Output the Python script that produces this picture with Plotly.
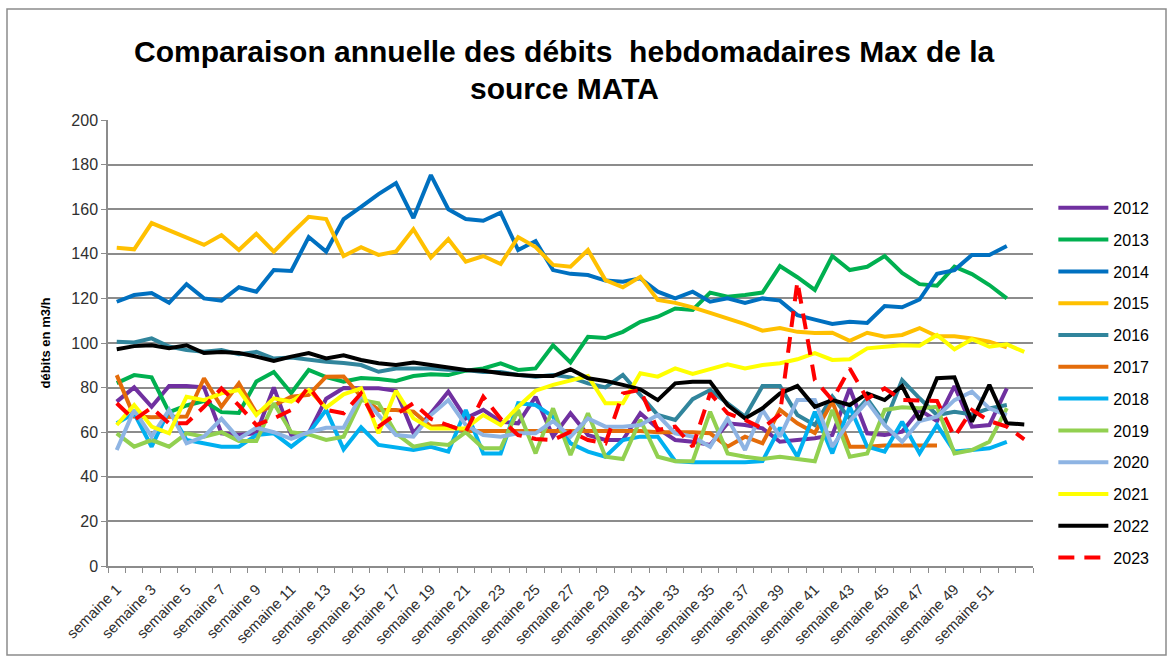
import plotly.graph_objects as go

N_WEEKS = 53
week_num = list(range(1, N_WEEKS + 1))
week_labels = ["semaine %d" % i for i in week_num]
tick_weeks = list(range(1, 52, 2))
tick_labels = ["semaine %d" % i for i in tick_weeks]

y_ticks = [0, 20, 40, 60, 80, 100, 120, 140, 160, 180, 200]

title_lines = ["Comparaison annuelle des débits  hebdomadaires Max de la", "source MATA"]

v2012 = [73.7,80.1,71.4,80.7,80.7,80.1,59.5,58.7,59.5,80.1,
         58.7,59.6,75,79.8,79.7,79.7,78.6,59.6,68.5,78.2,
         66.2,70,64.7,64,75.9,58,68.5,58.7,56.5,56.5,
         68.5,61.7,56.5,55.7,54.3,64,63.2,61.7,55.7,56.5,
         57.3,58.7,79.7,59.5,58.7,60.2,70,65,80.7,62.5,
         63.2,79.7]
v2013 = [82,85.6,84.6,69,72,74,69,68.6,82.7,87,
         77.6,87.9,84.7,82.7,84.3,83.9,83,85.2,86,85.6,
         87.6,88.6,90.9,87.9,88.6,99,91.3,102.8,102.2,105,
         109.5,111.8,115.5,114.8,122.6,120.8,121.5,122.6,134.5,129.5,
         123.8,139,132.7,134.2,139,131.4,126.4,125.7,134.2,130.9,
         126,120]
v2014 = [118.5,121.5,122.4,118,126.4,120,119,125,123,132.7,
         132.3,147.5,141,155.5,161,166.8,171.7,156,175.3,160,
         155.6,154.8,158.4,141.7,145.7,132.7,131,130.5,128,127.5,
         129,123,120,123,118.5,120,118,120,119,112.5,
         110.5,108.5,109.5,109,116.6,116,119.5,131,132.7,139.5,
         139.5,143.5]
v2015 = [142.7,142,153.8,150.5,147,144,148.4,141.7,149,141,
         149,156.6,155.6,139,143,139.5,141,151,138.3,146.6,
         136.5,139,135.4,147.5,143,135,134.2,141.7,128.2,125,
         129.7,119.3,118,116,113.5,111,108.5,105.5,106.7,105,
         104.5,104.6,101,104.6,102.8,103.6,106.7,103,103,102,
         100.6,98]
v2016 = [100.6,100.2,102.1,98.4,96.9,96.1,96.9,95,96,93,
         93.5,92.5,91.6,91,90.1,87.1,88.6,88.6,88.6,88,
         87.9,87,87,85.7,84.9,85.7,84.6,81.9,80.1,85.7,
         76.7,67.7,65.5,74.8,78.9,73,67,80.7,80.7,67.7,
         63.2,76,66,75,64,83.4,75.2,67.7,69.2,68,
         70.7,72.2]
v2017 = [85.6,67,66.7,67,67,84.2,71.4,81.9,68.6,72,
         75.9,76.7,84.9,85,76,70,70,69.2,62.5,63,
         60.5,60.5,60.5,60.5,60.5,60.5,60.5,60.5,60.5,60.5,
         60.5,60,60,60,59.5,53.5,58,55,70,64,
         59.6,73.7,53.5,53.5,54,54,54,54]
v2018 = [64,68.5,53.5,70,56.5,55,53.5,53.5,58.7,59.5,
         53.5,59.6,70,52.3,62.2,54.3,53,52,53.5,51.3,
         70,50.5,50.5,73,72.2,67,55,51.3,49,56.5,
         58,58,47,46.5,46.5,46.5,46.5,47,62,49,
         69.2,50.5,71.4,53.5,51.3,64.7,50.5,63.2,51.3,52,
         52.8,55.7]
v2019 = [59.5,53.5,56.5,53.5,59.5,58,60,56,56,73,
         60,59,56.5,58,74.4,73,59.5,53.5,55,54.3,
         60,52.8,52.8,70,50.5,70.7,49.8,68.5,49,48,
         65.5,49,47,47,69.2,50.5,49,48,49,48,
         47,70,49,50.5,70,71.2,70.7,71.4,50.5,52,
         55.7,70.8]
v2020 = [52,70,58,70,55,58,66,57,62,60,
         57,60,62,62,76.7,67.7,58.7,58,67.7,74.4,
         63.2,58.7,58,59.5,59.5,65,58,66.2,62.5,62.5,
         63.2,67.7,59.5,58,53.5,66.2,52,70,58,74.4,
         74.4,53.5,65,73.7,63.2,55.7,65,67,74.4,78.2,
         70.7,67.7]
v2021 = [63.2,72.2,62.5,59.5,75.9,74.4,77.4,78.9,67.7,75.2,
         73.7,78.9,71,77,79.7,59.5,78.6,66.2,61.7,61.7,
         61.7,67.7,63.2,71.4,78.6,81.2,83.4,85.2,73,73,
         86.4,84.9,88.6,86.1,88.3,90.4,88.6,90.1,90.9,92.7,
         95.5,92.4,92.7,97.6,98.3,99,98.8,103.6,97.2,101.7,
         98.3,99.4,96]
v2022 = [97.2,98.6,99,97.7,99,95.5,96,95.5,93.9,92,
         93.9,95.5,93.1,94.5,92.4,90.9,90.1,91.2,90.1,88.9,
         87.9,87.6,86.4,85.7,85.2,85.2,88.2,84.2,83,81.2,
         79.2,74.4,81.9,82.6,82.6,72.2,66.2,70.7,77.4,80.7,
         71.4,74.4,72.2,77.4,74.4,80.7,65.5,84.2,84.6,64.7,
         81.2,64,63.5]
v2023 = [73,65.5,71,64,64,71.4,79.7,72,63.2,66.2,
         70,80.4,70,68.5,77.4,62.5,68,73,66,63,
         60.2,75.9,66,58.7,57,56.5,60.2,56.5,55,77.4,
         79,61,62.5,53.5,77.4,68.5,65.5,61.7,68,127.5,
         83.4,74.4,88.6,75,79.7,74.4,74,74,58,70,
         65,62.5,56.8]

years = ["2012", "2013", "2014", "2015", "2016", "2017", "2018", "2019",
         "2020", "2021", "2022", "2023"]
series = [v2012, v2013, v2014, v2015, v2016, v2017, v2018, v2019,
          v2020, v2021, v2022, v2023]
colors = ["#7030A0", "#00B050", "#0070C0", "#FFC000", "#31859C", "#E46C0A",
          "#00B0F0", "#92D050", "#8EB4E3", "#FFFF00", "#000000", "#FF0000"]

FONT = "Liberation Sans"

fig = go.Figure()
for name, vals, col in zip(years, series, colors):
    y = list(vals) + [None] * (N_WEEKS - len(vals))
    fig.add_trace(go.Scatter(
        x=week_num, y=y, name=name, mode="lines",
        legendgroup=name,
        line=dict(color=col, width=4,
                  dash="16px,10px" if name == "2023" else "solid"),
        connectgaps=False,
    ))

fig.update_layout(
    width=1174, height=660,
    margin=dict(l=108, r=141, t=120, b=94, autoexpand=False),
    paper_bgcolor="white", plot_bgcolor="white",
    showlegend=True,
    legend=dict(
        x=1.022, xanchor="left", y=0.841, yanchor="top",
        font=dict(family=FONT, size=16, color="#000000"),
        traceorder="grouped", tracegroupgap=8,
        itemwidth=50, bgcolor="rgba(0,0,0,0)",
    ),
    font=dict(family=FONT, color="#303030"),
)

for line_text, ypos in zip(title_lines, [1.1525, 1.0717]):
    fig.add_annotation(
        text="<b>%s</b>" % line_text, xref="paper", yref="paper",
        x=0.4935, y=ypos, xanchor="center", yanchor="middle",
        showarrow=False, font=dict(family=FONT, size=30, color="#000000"),
    )

fig.update_xaxes(
    range=[0.5, N_WEEKS + 0.5], automargin=False,
    tickmode="array", tickvals=tick_weeks, ticktext=tick_labels,
    tickangle=-45, ticks="", showgrid=False, zeroline=False,
    showline=True, linecolor="#8c8c8c", linewidth=1.5,
    ticklabelstandoff=7,
    tickfont=dict(family=FONT, size=15, color="#303030"),
    minor=dict(tickmode="array", tickvals=[i + 0.5 for i in range(0, N_WEEKS + 1)],
               ticks="outside", ticklen=5, tickcolor="#8c8c8c", tickwidth=1.2,
               showgrid=False),
)
fig.update_yaxes(
    range=[0, 200], tickmode="array", tickvals=y_ticks, automargin=False,
    showgrid=True, gridcolor="#8c8c8c", gridwidth=1.8,
    zeroline=False, showline=True, linecolor="#8c8c8c", linewidth=1.5,
    ticks="outside", ticklen=5, tickcolor="#8c8c8c",
    tickfont=dict(family=FONT, size=16, color="#303030"),
    title=dict(text="<b>débits en m3/h</b>", font=dict(family=FONT, size=13, color="#000000"),
               standoff=18),
)

fig.add_shape(type="rect", xref="paper", yref="paper",
              x0=-101 / 925, x1=(1166 - 108) / 925,
              y0=-(655 - 566) / 446, y1=(566 - 9) / 446,
              line=dict(color="#8c8c8c", width=1.5), fillcolor="rgba(0,0,0,0)",
              layer="below")

fig.write_html("out.html", config={"displayModeBar": False},
               post_script="document.body.style.margin='0';")
